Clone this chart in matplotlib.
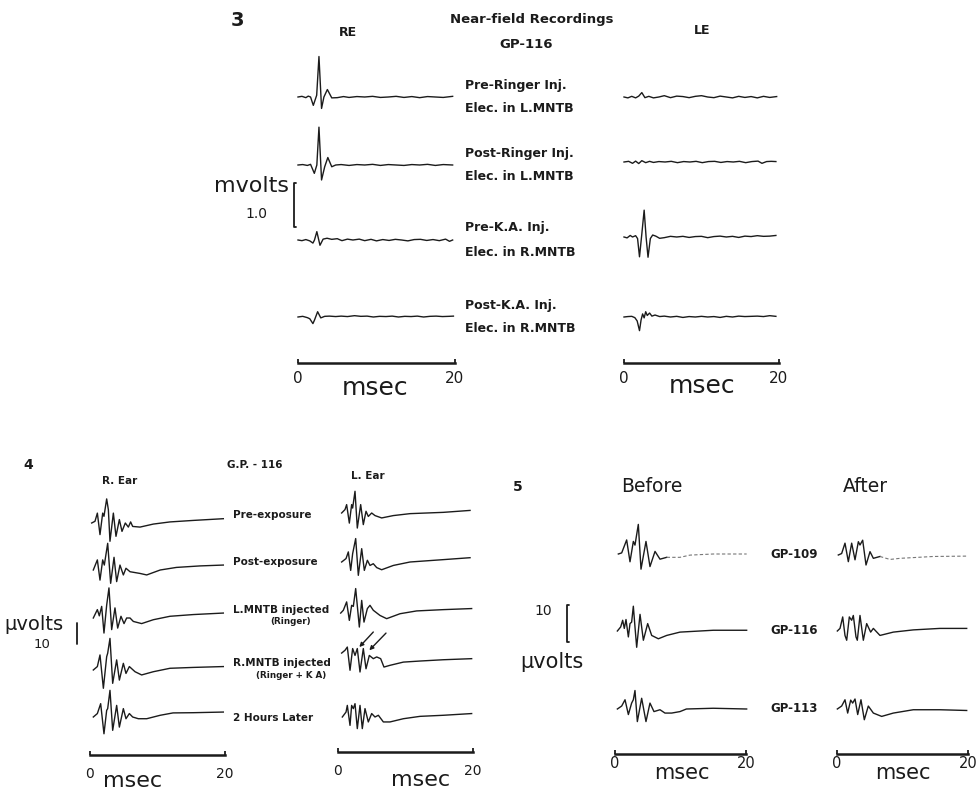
import matplotlib
matplotlib.use("Agg")
import matplotlib.pyplot as plt
import numpy as np

# ------------------------------------------------------------------ data
# Figure 3 : near-field recordings, GP-116 (mV vs msec)
f3_re1_t = [0.0, 0.5, 1.0, 1.3, 1.6, 1.95, 2.38, 2.67, 3.0, 3.3, 3.74, 4.3, 5.0, 5.8, 6.5, 7.5, 8.5, 9.5, 10.5, 11.5, 12.5, 13.5, 14.5, 15.5, 16.5, 17.5, 18.5, 19.7]
f3_re1_mv = [0.0, 0.015, -0.015, 0.02, 0.0, -0.19, 0.04, 0.92, -0.26, 0.0, 0.17, -0.02, -0.015, 0.01, -0.01, 0.01, 0.0, 0.015, -0.01, 0.0, 0.015, -0.01, 0.01, -0.015, 0.01, 0.0, -0.01, 0.015]
f3_re2_t = [0.0, 0.6, 1.2, 1.6, 2.08, 2.4, 2.67, 3.0, 3.4, 3.8, 4.3, 4.8, 5.5, 6.5, 7.5, 8.5, 9.5, 10.5, 11.5, 12.5, 13.5, 14.5, 15.5, 16.5, 17.5, 18.5, 19.7]
f3_re2_mv = [0.0, 0.01, -0.01, 0.015, -0.19, 0.0, 0.86, -0.34, -0.04, 0.17, -0.04, 0.0, 0.01, -0.01, 0.01, 0.0, 0.015, -0.01, 0.01, 0.0, -0.01, 0.01, 0.0, 0.015, -0.01, 0.01, 0.0]
f3_re3_t = [0.0, 0.5, 1.0, 1.5, 1.9, 2.1, 2.4, 2.8, 3.2, 3.7, 4.3, 5.0, 5.6, 6.3, 7.0, 7.8, 8.5, 9.3, 10.0, 10.8, 11.6, 12.4, 13.2, 14.0, 14.8, 15.6, 16.4, 17.2, 18.0, 18.8, 19.3, 19.7]
f3_re3_mv = [0.0, -0.015, 0.01, -0.02, -0.07, 0.0, 0.19, -0.12, 0.02, 0.04, 0.015, 0.03, -0.015, 0.02, 0.0, 0.02, -0.015, 0.015, -0.02, 0.01, -0.01, 0.015, 0.0, -0.02, 0.01, 0.015, -0.01, 0.01, -0.015, 0.02, -0.03, 0.0]
f3_re4_t = [0.0, 0.6, 1.2, 1.5, 1.9, 2.1, 2.5, 2.9, 3.4, 4.0, 4.8, 5.5, 6.3, 7.2, 8.0, 8.8, 9.6, 10.4, 11.2, 12.0, 12.8, 13.6, 14.4, 15.2, 16.0, 16.8, 17.6, 18.4, 19.2, 19.8]
f3_re4_mv = [0.0, 0.015, -0.015, -0.04, -0.15, -0.07, 0.12, -0.02, 0.015, 0.02, 0.01, 0.02, 0.01, 0.03, 0.015, 0.02, 0.0, 0.015, 0.01, 0.02, 0.0, 0.015, 0.01, 0.02, 0.0, 0.015, 0.02, 0.01, 0.015, 0.02]
f3_le1_t = [0.0, 0.5, 1.0, 1.5, 1.9, 2.3, 2.7, 3.2, 3.8, 4.5, 5.2, 6.0, 6.8, 7.6, 8.4, 9.2, 10.0, 10.8, 11.6, 12.4, 13.2, 14.0, 14.8, 15.6, 16.4, 17.2, 18.0, 18.8, 19.7]
f3_le1_mv = [0.0, -0.02, 0.015, -0.02, 0.02, 0.1, -0.015, 0.015, -0.02, 0.0, 0.03, -0.015, 0.02, 0.01, -0.015, 0.015, 0.03, 0.0, -0.015, 0.02, 0.0, -0.02, 0.015, -0.01, 0.01, -0.02, 0.015, -0.01, 0.01]
f3_le2_t = [0.0, 0.6, 1.1, 1.5, 1.9, 2.3, 2.8, 3.3, 3.8, 4.5, 5.3, 6.1, 6.9, 7.7, 8.5, 9.3, 10.1, 10.9, 11.7, 12.5, 13.3, 14.1, 14.9, 15.7, 16.5, 17.3, 17.8, 18.4, 19.0, 19.6]
f3_le2_mv = [0.0, 0.015, -0.03, 0.02, -0.035, 0.03, -0.015, 0.015, -0.01, 0.01, 0.0, 0.015, -0.015, 0.01, 0.0, 0.015, -0.015, 0.01, 0.015, -0.01, 0.01, 0.0, 0.015, -0.015, 0.01, 0.02, -0.03, 0.01, 0.015, 0.01]
f3_le3_t = [0.0, 0.4, 0.8, 1.1, 1.5, 1.75, 2.0, 2.3, 2.6, 2.85, 3.1, 3.4, 3.7, 4.1, 4.6, 5.2, 6.0, 6.8, 7.6, 8.4, 9.2, 10.0, 10.8, 11.6, 12.4, 13.2, 14.0, 14.8, 15.6, 16.4, 17.2, 18.0, 18.8, 19.6]
f3_le3_mv = [0.0, -0.02, 0.035, 0.0, 0.03, -0.035, -0.45, 0.07, 0.61, 0.0, -0.46, -0.035, 0.045, 0.02, -0.03, -0.015, 0.015, 0.0, 0.015, -0.01, 0.01, 0.015, -0.015, 0.01, 0.02, 0.0, 0.015, -0.01, 0.02, 0.01, 0.03, 0.015, 0.02, 0.035]
f3_le4_t = [0.0, 0.5, 1.0, 1.4, 1.7, 2.0, 2.2, 2.4, 2.6, 2.8, 3.0, 3.3, 3.6, 4.0, 4.6, 5.2, 6.0, 6.8, 7.6, 8.4, 9.2, 10.0, 10.8, 11.6, 12.4, 13.2, 14.0, 14.8, 15.6, 16.4, 17.2, 18.0, 18.8, 19.6]
f3_le4_mv = [0.0, 0.01, 0.015, -0.015, -0.09, -0.31, -0.07, 0.07, -0.02, 0.12, 0.035, 0.09, 0.02, 0.045, 0.01, 0.02, 0.0, 0.015, -0.01, 0.01, 0.0, 0.015, 0.0, 0.01, -0.01, 0.015, 0.0, 0.02, 0.01, 0.015, 0.02, 0.01, 0.03, 0.015]
f3_conditions = ["Pre-Ringer Inj.", "Post-Ringer Inj.", "Pre-K.A. Inj.", "Post-K.A. Inj."]
f3_electrodes = ["Elec. in L.MNTB", "Elec. in L.MNTB", "Elec. in R.MNTB", "Elec. in R.MNTB"]
f3_scale_mv = 1.0

# Figure 4 : GP-116 far-field responses (uV vs msec)
f4_r1_t = [0.25, 0.74, 1.09, 1.48, 1.88, 2.07, 2.47, 2.72, 2.96, 3.46, 3.85, 4.35, 4.74, 5.23, 5.68, 6.02, 6.32, 7.41, 9.38, 11.85, 15.3, 19.75]
f4_r1_uv = [0.0, 0.8, 4.6, -5.4, 4.6, 3.1, 11.2, 6.2, -8.5, 4.6, -6.2, 1.6, -3.9, 0.0, -1.9, 0.5, -1.6, -1.9, -0.5, 0.5, 1.2, 2.0]
f4_r2_t = [0.49, 1.09, 1.48, 1.88, 2.12, 2.62, 3.06, 3.56, 3.95, 4.44, 4.94, 5.33, 5.93, 7.41, 8.4, 10.4, 12.8, 16.3, 19.75]
f4_r2_uv = [0.0, 4.7, -4.7, 4.7, 2.3, 12.4, -6.2, 5.9, -5.4, 2.3, -2.3, 0.8, -0.8, -1.6, -2.3, 0.0, 1.2, 1.9, 2.3]
f4_r3_t = [0.49, 1.09, 1.38, 1.73, 2.07, 2.47, 2.81, 3.21, 3.70, 4.10, 4.59, 5.04, 5.43, 5.93, 6.42, 7.65, 9.38, 11.85, 15.3, 19.75]
f4_r3_uv = [0.0, 3.9, 1.0, 5.4, -7.0, 6.0, 14.0, -5.4, 4.7, -4.7, 0.8, -2.6, 0.0, 0.0, -1.6, -2.6, -0.8, 0.8, 1.6, 2.3]
f4_r4_t = [0.49, 1.09, 1.48, 1.98, 2.47, 2.62, 2.96, 3.36, 3.95, 4.35, 4.94, 5.33, 5.83, 6.67, 7.65, 9.38, 11.85, 15.3, 19.75]
f4_r4_uv = [0.0, 1.6, 7.0, -8.5, 6.2, 7.8, 14.7, -6.2, 4.7, -4.7, 3.1, -1.6, 1.6, -0.8, -2.3, -0.8, 0.8, 1.2, 1.6]
f4_r5_t = [0.49, 1.09, 1.58, 2.07, 2.47, 2.62, 2.96, 3.36, 3.95, 4.35, 4.94, 5.33, 5.83, 6.32, 7.16, 8.40, 10.4, 12.3, 15.3, 19.75]
f4_r5_uv = [0.0, 1.6, 6.2, -7.8, 3.1, 3.9, 12.4, -6.2, 5.4, -4.7, 3.9, -0.8, 1.6, 0.0, -0.8, -0.8, 0.8, 1.9, 2.0, 2.3]
f4_l1_t = [0.54, 1.04, 1.28, 1.68, 2.02, 2.17, 2.52, 2.86, 3.36, 3.75, 4.15, 4.49, 4.99, 5.48, 6.47, 8.20, 10.67, 15.6, 19.56]
f4_l1_uv = [0.0, 1.6, 3.9, -4.7, 3.9, 2.3, 10.1, -7.0, 3.9, -5.4, 0.8, -1.6, 0.0, -1.2, -2.3, -1.2, -0.3, 0.3, 1.2]
f4_l2_t = [0.54, 1.19, 1.53, 1.88, 2.17, 2.62, 3.01, 3.51, 3.90, 4.35, 4.74, 5.23, 5.73, 6.47, 8.20, 10.67, 15.6, 19.56]
f4_l2_uv = [0.0, 1.6, 4.7, -3.9, 3.9, 10.9, -6.2, 6.2, -3.9, 0.8, -1.6, -0.8, -2.6, -3.6, -1.6, 0.0, 1.1, 2.0]
f4_l3_t = [0.40, 0.79, 1.28, 1.68, 2.02, 2.27, 2.62, 3.16, 3.51, 3.85, 4.35, 4.74, 5.23, 6.22, 7.21, 9.19, 11.65, 15.6, 19.8]
f4_l3_uv = [-0.5, 0.8, 4.7, -3.9, 3.1, 2.6, 10.9, -7.0, 5.4, -4.7, 1.6, 3.1, 0.8, -1.6, -3.1, -0.8, 0.5, 1.1, 1.6]
f4_l4_t = [0.54, 1.04, 1.38, 1.78, 2.17, 2.52, 2.86, 3.26, 3.75, 4.15, 4.64, 5.23, 5.73, 6.32, 6.81, 7.70, 9.68, 12.15, 15.6, 19.8]
f4_l4_uv = [-0.5, 0.8, 2.3, -8.5, 1.6, -1.6, 1.6, -9.3, 1.6, -7.8, -1.6, -3.1, -2.3, -3.1, -7.0, -6.2, -4.7, -4.2, -3.6, -3.1]
f4_l5_t = [0.64, 1.19, 1.38, 1.78, 2.02, 2.27, 2.52, 2.86, 3.26, 3.60, 4.0, 4.49, 4.99, 5.48, 5.98, 6.72, 7.70, 9.68, 12.15, 15.6, 19.8]
f4_l5_uv = [0.0, 2.3, 5.4, -3.9, 5.4, 3.9, 6.2, -5.4, 5.4, -5.4, 3.9, -2.3, 1.6, 0.0, 0.8, -2.3, -2.3, -0.8, 0.3, 0.8, 1.6]
f4_conditions = ["Pre-exposure", "Post-exposure", "L.MNTB injected", "R.MNTB injected", "2 Hours Later"]
f4_notes = ["", "", "(Ringer)", "(Ringer + K A)", ""]
f4_scale_uv = 10

# Figure 5 : before / after (uV vs msec)
f5_b109_t = [0.51, 1.02, 1.78, 2.29, 2.80, 3.05, 3.56, 3.97, 4.73, 5.34, 6.11, 6.87, 7.89, 9.92, 11.45, 15.0, 20.1]
f5_b109_uv = [0.0, 0.3, 3.8, -2.1, 3.4, 2.4, 8.0, -4.1, 3.4, -3.4, 0.7, -1.4, -0.9, -0.9, -0.3, 0.0, 0.0]
f5_a109_t = [0.20, 0.71, 1.22, 1.73, 2.24, 2.75, 3.26, 3.51, 3.92, 4.43, 5.04, 5.55, 6.56, 8.09, 9.62, 14.7, 19.8]
f5_a109_uv = [0.0, 0.4, 3.2, -1.8, 3.2, -1.3, 3.6, 2.7, 4.0, -2.7, 0.9, -0.9, -0.4, -1.2, -0.9, -0.4, -0.3]
f5_b116_t = [0.36, 0.87, 1.17, 1.42, 1.68, 2.04, 2.29, 2.54, 2.80, 3.05, 3.31, 3.82, 4.33, 4.99, 5.60, 6.62, 7.89, 9.92, 15.0, 20.1]
f5_b116_uv = [0.0, 1.1, 2.9, 0.7, 3.1, -1.6, 2.0, 2.4, 6.7, 1.1, -4.4, 4.5, -2.5, 2.0, -1.2, -2.1, -1.2, -0.3, 0.2, 0.2]
f5_a116_t = [0.05, 0.46, 0.87, 1.22, 1.48, 1.88, 2.24, 2.49, 2.90, 3.10, 3.51, 4.02, 4.53, 5.14, 5.55, 6.56, 8.60, 11.65, 15.7, 19.8]
f5_a116_uv = [0.0, 0.7, 3.8, -1.2, -2.5, 3.8, 2.9, 4.2, -1.6, -2.5, 4.2, -2.5, 2.0, -0.3, 0.7, -1.2, -0.3, 0.3, 0.7, 0.7]
f5_b113_t = [0.36, 1.02, 1.53, 2.04, 2.54, 2.80, 3.05, 3.41, 4.07, 4.73, 5.34, 5.95, 6.87, 7.63, 8.65, 9.92, 10.9, 15.0, 20.1]
f5_b113_uv = [0.0, 0.8, 2.5, -1.5, 1.6, 2.5, 5.0, -3.4, 2.9, -3.4, 1.6, -0.7, -0.2, -1.1, -1.1, -0.7, 0.0, 0.2, 0.0]
f5_a113_t = [0.05, 0.71, 1.22, 1.63, 2.09, 2.39, 2.75, 3.16, 3.66, 4.17, 4.78, 5.55, 6.82, 8.60, 11.65, 15.7, 19.8]
f5_a113_uv = [0.0, 0.8, 2.5, -1.1, 2.4, 1.6, 2.7, -1.5, 2.5, -2.9, 0.8, -1.1, -2.0, -1.1, -0.2, -0.2, -0.4]
f5_animals = ["GP-109", "GP-116", "GP-113"]
f5_scale_uv = 10

time_ticks = [0, 20]
time_ticklabels = ["0", "20"]

# ------------------------------------------------------------------ layout
W, H = 979, 795
INK = "#1b1b1b"
plt.rcParams["font.family"] = ["DejaVu Sans"]

fig = plt.figure(figsize=(W / 100, H / 100), dpi=100)
fig.patch.set_facecolor("white")


def ftext(x, y, s, size, ha="center", va="center", weight="normal"):
    fig.text(x / W, 1 - y / H, s, ha=ha, va=va, fontsize=size,
             fontweight=weight, color=INK)


def trace_axes(x0, x20, y_top, y_bar, ppu, tsize, tpad):
    ax = fig.add_axes([x0 / W, 1 - y_bar / H, (x20 - x0) / W, (y_bar - y_top) / H])
    ax.set_xlim(0, 20)
    ax.set_ylim(0, (y_bar - y_top) / ppu)
    for s in ("top", "left", "right"):
        ax.spines[s].set_visible(False)
    ax.spines["bottom"].set_linewidth(1.8)
    ax.spines["bottom"].set_color(INK)
    ax.set_xticks(time_ticks)
    ax.set_xticklabels(time_ticklabels)
    ax.set_yticks([])
    ax.tick_params(axis="x", direction="in", length=3, width=1.3, colors=INK,
                   labelsize=tsize, pad=tpad)
    ax.patch.set_visible(False)
    return ax, y_bar, ppu


def offset(col, base_px):
    _, y_bar, ppu = col
    return (y_bar - base_px) / ppu


def draw(col, t, v, base_px, split=None):
    ax = col[0]
    y = np.asarray(v, dtype=float) + offset(col, base_px)
    t = np.asarray(t, dtype=float)
    if split is None:
        ax.plot(t, y, color=INK, lw=1.0, clip_on=False, solid_joinstyle="round")
    else:
        m1 = t <= split
        m2 = t >= t[m1][-1]
        ax.plot(t[m1], y[m1], color=INK, lw=1.0, clip_on=False, solid_joinstyle="round")
        ax.plot(t[m2], y[m2], color="#777777", lw=0.8, ls=(0, (3, 2)), clip_on=False)


def bracket(col, x_ms, bottom_px, length, hook):
    ax = col[0]
    y0 = offset(col, bottom_px)
    ax.plot([x_ms + hook, x_ms, x_ms, x_ms + hook], [y0, y0, y0 + length, y0 + length],
            color=INK, lw=1.3, clip_on=False, solid_capstyle="round")


# ---------------- Figure 3
re = trace_axes(298, 455, 40, 363, 44, 11, 5.5)
le = trace_axes(624, 779, 40, 363, 44, 11, 5.5)
for col, t, v, b in [(re, f3_re1_t, f3_re1_mv, 97), (re, f3_re2_t, f3_re2_mv, 165),
                     (re, f3_re3_t, f3_re3_mv, 240), (re, f3_re4_t, f3_re4_mv, 317),
                     (le, f3_le1_t, f3_le1_mv, 97), (le, f3_le2_t, f3_le2_mv, 162),
                     (le, f3_le3_t, f3_le3_mv, 237), (le, f3_le4_t, f3_le4_mv, 317)]:
    draw(col, t, v, b)
bracket(re, -0.51, 227, f3_scale_mv, 0.3)

ftext(237, 20, "3", 14, weight="bold")
ftext(532, 19, "Near-field Recordings", 9.5, weight="bold")
ftext(526, 44, "GP-116", 9.5, weight="bold")
ftext(348, 32, "RE", 9, weight="bold")
ftext(702, 30, "LE", 9, weight="bold")
for cond, elec, y in zip(f3_conditions, f3_electrodes, [97, 165, 240, 317]):
    ftext(465, y - 12, cond, 9, ha="left", weight="bold")
    ftext(465, y + 12, elec, 9, ha="left", weight="bold")
ftext(289, 186, "mvolts", 16, ha="right")
ftext(256, 214, "1.0", 10)
ftext(375, 388, "msec", 18)
ftext(702, 386, "msec", 18)

# ---------------- Figure 4
r4 = trace_axes(90, 225, 480, 755, 2.15, 10, 8.5)
l4 = trace_axes(338, 473, 480, 752, 2.15, 10, 8.5)
for col, t, v, b in [(r4, f4_r1_t, f4_r1_uv, 523), (r4, f4_r2_t, f4_r2_uv, 570),
                     (r4, f4_r3_t, f4_r3_uv, 618), (r4, f4_r4_t, f4_r4_uv, 670),
                     (r4, f4_r5_t, f4_r5_uv, 717),
                     (l4, f4_l1_t, f4_l1_uv, 513), (l4, f4_l2_t, f4_l2_uv, 562),
                     (l4, f4_l3_t, f4_l3_uv, 612), (l4, f4_l4_t, f4_l4_uv, 652),
                     (l4, f4_l5_t, f4_l5_uv, 717)]:
    draw(col, t, v, b)
bracket(r4, -1.93, 644, f4_scale_uv, 0.0)
# arrows pointing at the L-ear peaks after R.MNTB injection
o4 = offset(l4, 652)
for (tx, ty), (hx, hy) in [((5.23, 9.3), (3.16, 2.3)), ((7.11, 8.8), (4.64, 0.8))]:
    l4[0].annotate("", xy=(hx, hy + o4), xytext=(tx, ty + o4),
                   arrowprops=dict(arrowstyle="-|>", color=INK, lw=1.0,
                                   mutation_scale=6, shrinkA=0, shrinkB=0),
                   annotation_clip=False)

ftext(28, 465, "4", 10, weight="bold")
ftext(120, 481, "R. Ear", 7.5, weight="bold")
ftext(255, 465, "G.P. - 116", 7.5, weight="bold")
ftext(368, 476, "L. Ear", 7.5, weight="bold")
for cond, note, y in zip(f4_conditions, f4_notes, [515, 562, 610, 663, 718]):
    ftext(233, y, cond, 7.5, ha="left", weight="bold")
    if note:
        ftext(291, y + 12, note, 6.3, weight="bold")
ftext(34, 624, "\u00b5volts", 14)
ftext(42, 645, "10", 9.5)
ftext(133, 781, "msec", 16)
ftext(421, 780, "msec", 16)

# ---------------- Figure 5
b5 = trace_axes(615, 746, 500, 754, 3.7, 10.5, 1.5)
a5 = trace_axes(837, 968, 500, 754, 3.7, 10.5, 1.5)
draw(b5, f5_b109_t, f5_b109_uv, 554, split=9.0)
draw(a5, f5_a109_t, f5_a109_uv, 555, split=6.6)
draw(b5, f5_b116_t, f5_b116_uv, 631)
draw(a5, f5_a116_t, f5_a116_uv, 631)
draw(b5, f5_b113_t, f5_b113_uv, 709)
draw(a5, f5_a113_t, f5_a113_uv, 709)
bracket(b5, -7.33, 642, f5_scale_uv, 0.3)

ftext(518, 487, "5", 10, weight="bold")
ftext(652, 487, "Before", 13.5)
ftext(865, 487, "After", 13.5)
for name, y in zip(f5_animals, [554, 631, 709]):
    ftext(794, y, name, 8.5, weight="bold")
ftext(543, 611, "10", 10)
ftext(552, 662, "\u00b5volts", 15)
ftext(682, 773, "msec", 15)
ftext(903, 773, "msec", 15)

fig.savefig("out.png", dpi=100, facecolor="white")
